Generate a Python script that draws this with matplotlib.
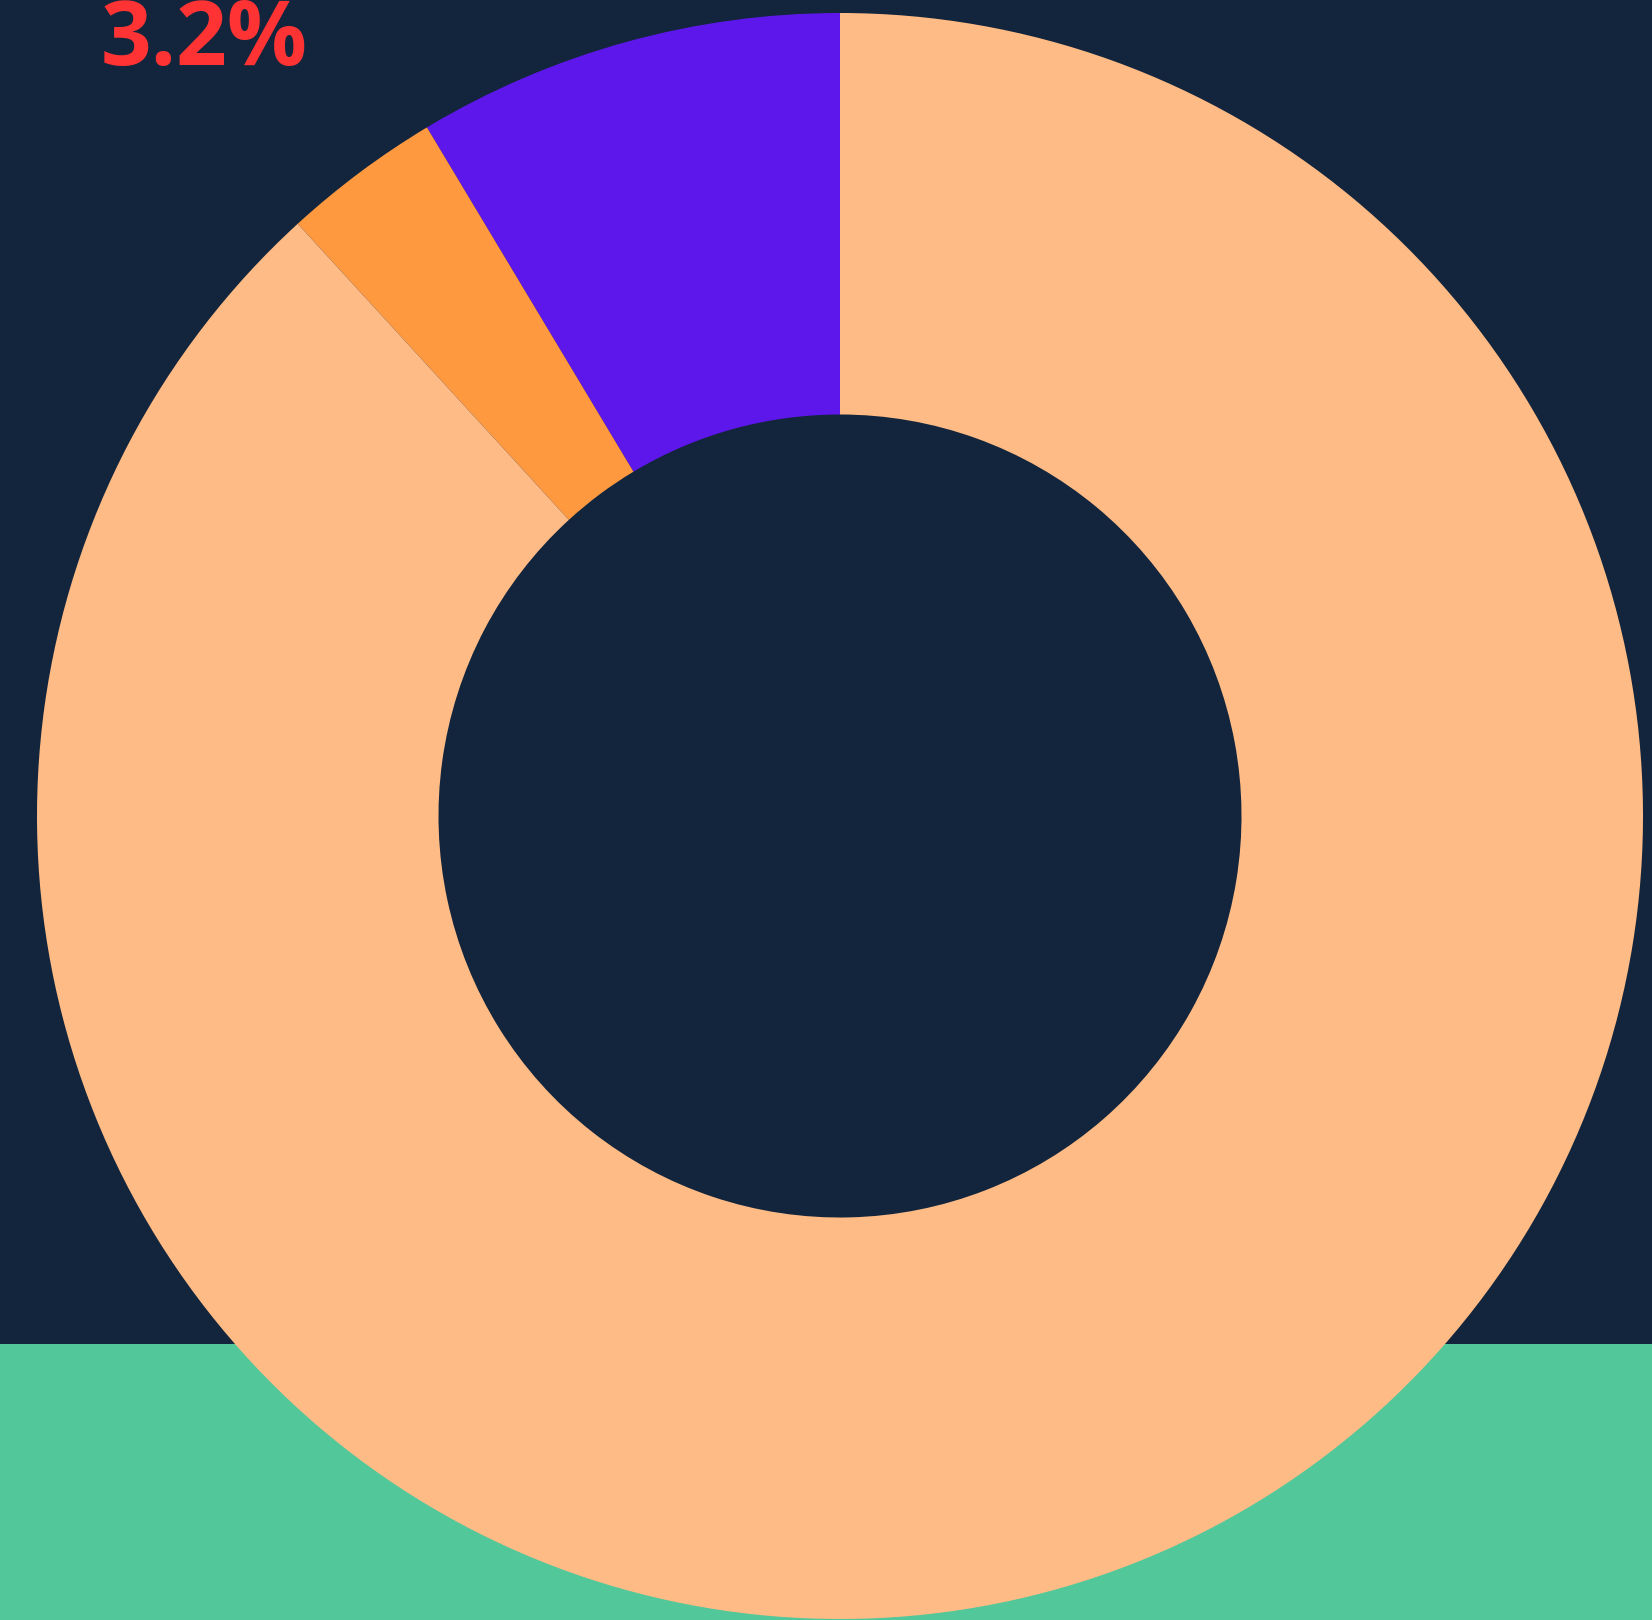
import matplotlib.pyplot as plt
from matplotlib.patches import Rectangle

# ── DATA ──
labels = ['Purple', 'Orange', 'Peach']
shares = [8.6, 3.2, 88.2]
colors = ['#5E17EB', '#FF9940', '#FFBB85']
callout = '3.2%'

# ── STYLE ──
BG    = '#12253C'
GREEN = '#52C89A'
RED   = '#FF3333'

W, H, DPI = 1652, 1620, 100
fig = plt.figure(figsize=(W / DPI, H / DPI), dpi=DPI, facecolor=BG)

# green band along the bottom, behind the donut
fig.patches.append(Rectangle((0, 0), 1, 276 / H, transform=fig.transFigure,
                             facecolor=GREEN, edgecolor='none', zorder=-1))

# donut: centre (840, 816) px from top-left, radius 803 px
cx, cy, r = 840, H - 816, 803
ax = fig.add_axes([(cx - r) / W, (cy - r) / H, 2 * r / W, 2 * r / H])
ax.set_facecolor('none')
ax.set_zorder(1)
ax.pie(shares, colors=colors, startangle=90, counterclock=True,
       radius=1, wedgeprops=dict(width=0.5, edgecolor='none'))
ax.set_xlim(-1, 1)
ax.set_ylim(-1, 1)
ax.set_aspect('equal')
ax.axis('off')

fig.text(101 / W, 1 - 65 / H, callout, color=RED, fontsize=64,
         fontweight='bold', family=['Open Sans', 'DejaVu Sans'],
         ha='left', va='baseline', zorder=2)

fig.savefig('out.png', dpi=DPI, facecolor=BG)
